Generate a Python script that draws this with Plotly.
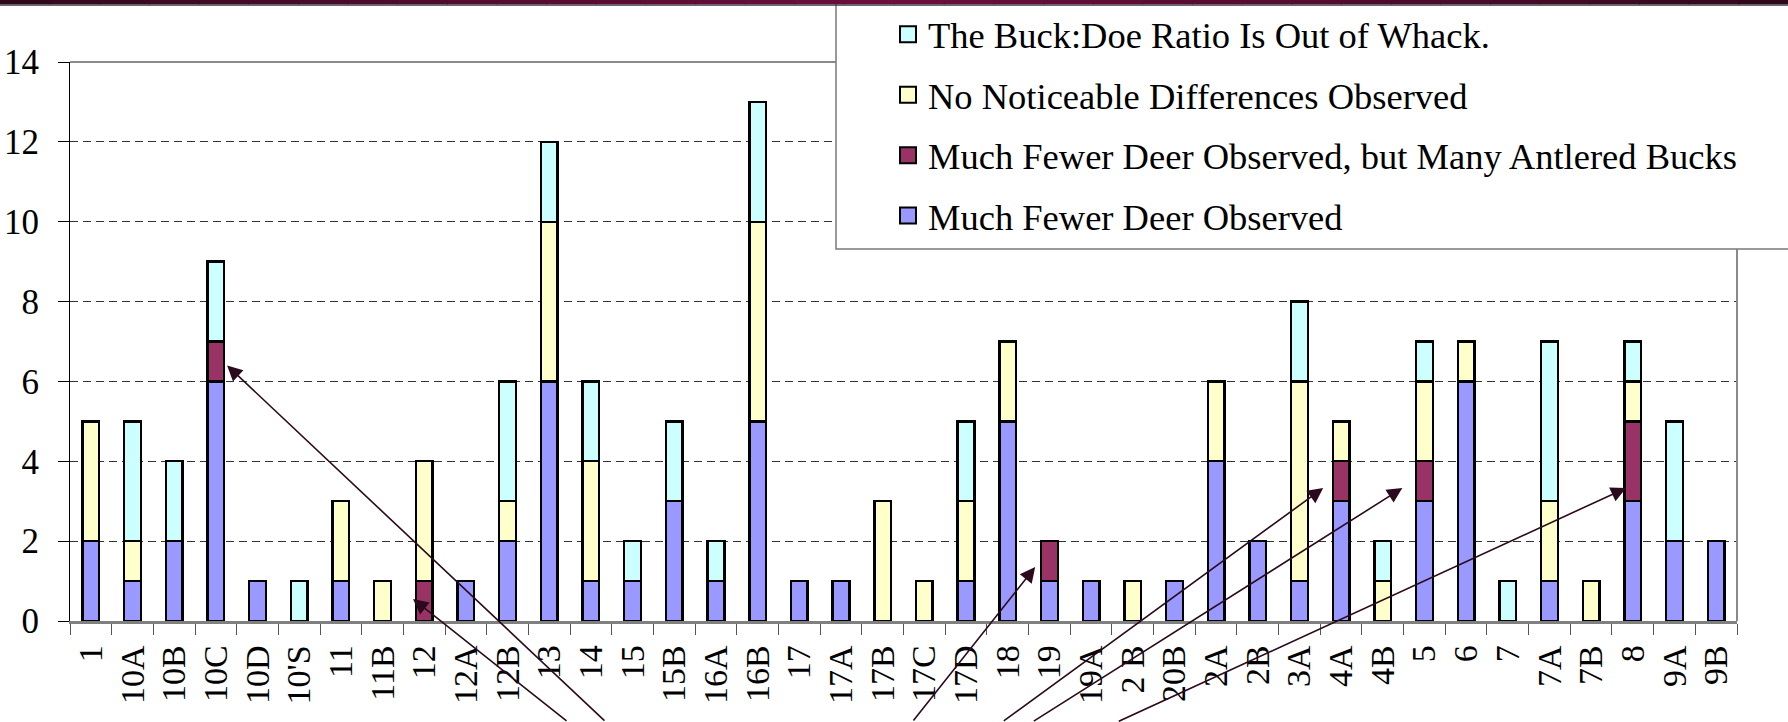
import plotly.graph_objects as go

# ---------------- data ----------------
categories = ["1", "10A", "10B", "10C", "10D", "10'S", "11", "11B", "12", "12A",
              "12B", "13", "14", "15", "15B", "16A", "16B", "17", "17A", "17B",
              "17C", "17D", "18", "19", "19A", "2 B", "20B", "2A", "2B", "3A",
              "4A", "4B", "5", "6", "7", "7A", "7B", "8", "9A", "9B"]

much_fewer = [2, 1, 2, 6, 1, 0, 1, 0, 0, 1, 2, 6, 1, 1, 3, 1, 5, 1, 1, 0,
              0, 1, 5, 1, 1, 0, 1, 4, 2, 1, 3, 0, 3, 6, 0, 1, 0, 3, 2, 2]
antlered = [0, 0, 0, 1, 0, 0, 0, 0, 1, 0, 0, 0, 0, 0, 0, 0, 0, 0, 0, 0,
            0, 0, 0, 1, 0, 0, 0, 0, 0, 0, 1, 0, 1, 0, 0, 0, 0, 2, 0, 0]
no_diff = [3, 1, 0, 0, 0, 0, 2, 1, 3, 0, 1, 4, 3, 0, 0, 0, 5, 0, 0, 3,
           1, 2, 2, 0, 0, 1, 0, 2, 0, 5, 1, 1, 2, 1, 0, 2, 1, 1, 0, 0]
buck_doe = [0, 3, 2, 2, 0, 1, 0, 0, 0, 0, 3, 2, 2, 1, 2, 1, 3, 0, 0, 0,
            0, 2, 0, 0, 0, 0, 0, 0, 0, 2, 0, 1, 1, 0, 1, 4, 0, 1, 3, 0]

series_names = ["Much Fewer Deer Observed",
                "Much Fewer Deer Observed, but Many Antlered Bucks",
                "No Noticeable Differences Observed",
                "The Buck:Doe Ratio Is Out of Whack."]
series_colors = ["#9999FF", "#993366", "#FFFFCC", "#CCFFFF"]

y_ticks = [0, 2, 4, 6, 8, 10, 12, 14]

# arrow callouts: (head category position, head value, tail category position, tail value)
arrows = [
    (3.27, 6.40, 12.36, -2.53),
    (7.73, 0.55, 11.45, -2.53),
    (22.66, 1.35, 19.71, -2.53),
    (29.57, 3.33, 21.87, -2.53),
    (31.47, 3.33, 22.59, -2.53),
    (36.84, 3.33, 24.63, -2.53),
]

FONT = "Liberation Serif, Times New Roman, serif"

fig = go.Figure()

for vals, name, col in zip([much_fewer, antlered, no_diff, buck_doe], series_names, series_colors):
    fig.add_trace(go.Bar(
        x=categories,
        y=[v if v else None for v in vals],
        name=name,
        marker=dict(color=col, line=dict(color="black", width=2.4)),
        showlegend=False,
    ))

# legend entries (larger square swatches), listed top to bottom
for name, col in reversed(list(zip(series_names, series_colors))):
    fig.add_trace(go.Scatter(
        x=[None], y=[None], mode="markers", name=name, legendgroup=name,
        marker=dict(symbol="square", size=16, color=col, line=dict(color="black", width=2)),
        showlegend=True,
    ))

W, H = 1788, 722
L, R, T, B = 70, 51, 62, 101
plot_w = W - L - R
plot_h = H - T - B

shapes = []
# plot top and right border
shapes.append(dict(type="line", xref="paper", yref="paper", x0=0, x1=1, y0=1, y1=1,
                   line=dict(color="#8a8a8a", width=2), layer="above"))
shapes.append(dict(type="line", xref="paper", yref="paper", x0=1, x1=1, y0=0, y1=1,
                   line=dict(color="#8a8a8a", width=2), layer="above"))
# legend box
shapes.append(dict(type="rect", xref="paper", yref="paper",
                   x0=(836 - L) / plot_w, x1=(W + 20 - L) / plot_w,
                   y0=(H - B - 249) / plot_h, y1=(H - B + 20) / plot_h,
                   fillcolor="white", line=dict(color="#7a7a7a", width=1.5), layer="above"))

# dark maroon gradient band at the top
def mix(c1, c2, t):
    return "#%02x%02x%02x" % tuple(int(round(a + (b - a) * t)) for a, b in zip(c1, c2))

edge = (0x2c, 0x08, 0x1a)
mid = (0x6c, 0x0e, 0x3c)
nseg = 36
for i in range(nseg):
    t = (i + 0.5) / nseg
    f = 1 - abs(2 * t - 1)
    shapes.append(dict(type="rect", xref="paper", yref="paper", ysizemode="pixel", yanchor=1,
                       x0=(W * i / nseg - L) / plot_w, x1=(W * (i + 1) / nseg + 1 - L) / plot_w,
                       y0=57.5, y1=T + 2,
                       fillcolor=mix(edge, mid, f ** 0.8), line=dict(width=0), layer="above"))
shapes.append(dict(type="rect", xref="paper", yref="paper", ysizemode="pixel", yanchor=1,
                   x0=(0 - L) / plot_w, x1=(W - L) / plot_w, y0=56.3, y1=57.5,
                   fillcolor="#3a3a3a", line=dict(width=0), layer="above"))

annotations = []
for hx, hy, tx, ty in arrows:
    annotations.append(dict(x=hx, y=hy, ax=tx, ay=ty, xref="x", yref="y", axref="x", ayref="y",
                            text="", showarrow=True, arrowhead=2, arrowsize=1.9, arrowwidth=1.6,
                            arrowcolor="#2a0a1c", standoff=0, startstandoff=0))

fig.update_layout(
    width=W, height=H,
    margin=dict(l=L, r=R, t=T, b=B, autoexpand=False),
    barmode="stack", bargap=0.6,
    paper_bgcolor="white", plot_bgcolor="white",
    font=dict(family=FONT, color="black"),
    shapes=shapes,
    annotations=annotations,
    legend=dict(x=(888 - L) / plot_w, y=(H - B - 4) / plot_h, xanchor="left", yanchor="top",
                bgcolor="rgba(0,0,0,0)", borderwidth=0,
                font=dict(family=FONT, size=36.5, color="black"),
                traceorder="grouped", tracegroupgap=10, itemwidth=30),
    xaxis=dict(type="category", categoryorder="array", categoryarray=categories,
               range=[-0.5, len(categories) - 0.5],
               tickmode="array", tickvals=categories, ticktext=categories,
               showline=True, linecolor="#808080", linewidth=2.5,
               ticks="outside", tickson="boundaries", ticklen=11, tickwidth=1, tickcolor="#555555",
               tickangle=-90, tickfont=dict(family=FONT, size=34, color="black"),
               ticklabelstandoff=8, showgrid=False, automargin=False, fixedrange=True),
    yaxis=dict(range=[0, 14], tickvals=y_ticks, ticktext=[str(v) for v in y_ticks],
               showline=True, linecolor="black", linewidth=1.2,
               ticks="outside", ticklen=11, tickwidth=1, tickcolor="black",
               tickfont=dict(family=FONT, size=35, color="black"),
               ticklabelstandoff=12,
               showgrid=True, gridcolor="#333333", gridwidth=1, griddash="8px,5px",
               zeroline=False, automargin=False, fixedrange=True),
)

fig.write_html("out.html", config={"displayModeBar": False},
               post_script="document.body.style.margin='0';document.body.style.overflow='hidden';")
